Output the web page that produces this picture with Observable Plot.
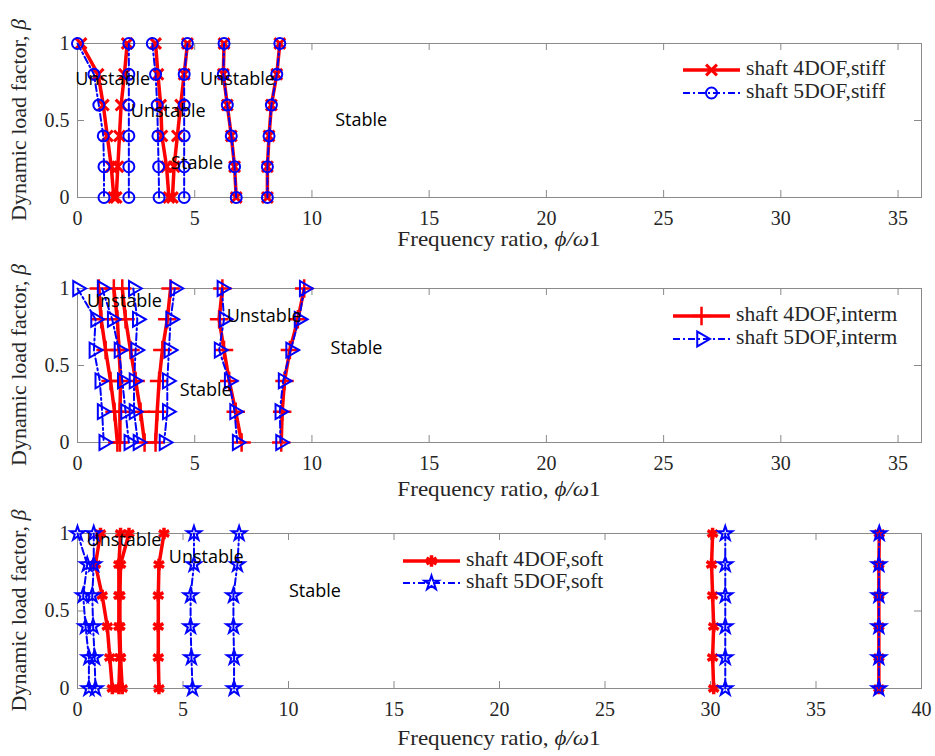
<!DOCTYPE html>
<html><head><meta charset="utf-8">
<script src="https://cdn.jsdelivr.net/npm/d3@7"></script>
<script src="https://cdn.jsdelivr.net/npm/@observablehq/plot@0.6"></script>
<style>
body{margin:0;background:#fff;}
#chart{position:relative;width:935px;height:756px;background:#fff;}
#chart svg{position:absolute;left:0;}
</style></head><body><div id="chart"></div>
<script>
// ---- data ----
const betaLevels = [1, 0.8, 0.6, 0.4, 0.2, 0];
const yTicks = [0, 0.5, 1];
const xTicks36 = [0, 5, 10, 15, 20, 25, 30, 35];
const xTicks40 = [0, 5, 10, 15, 20, 25, 30, 35, 40];

const stiff4DOF = [
  [0.15, 0.88, 1.10, 1.27, 1.44, 1.55],
  [2.12, 2.00, 1.86, 1.79, 1.72, 1.65],
  [3.33, 3.43, 3.55, 3.60, 3.80, 3.90],
  [4.69, 4.55, 4.40, 4.26, 4.12, 4.05],
  [6.25, 6.22, 6.39, 6.56, 6.70, 6.77],
  [8.63, 8.50, 8.27, 8.17, 8.10, 8.10]
];
const stiff5DOF = [
  [0.00, 0.70, 0.91, 1.10, 1.13, 1.13],
  [2.19, 2.19, 2.19, 2.19, 2.19, 2.19],
  [3.19, 3.33, 3.40, 3.43, 3.46, 3.48],
  [4.69, 4.55, 4.55, 4.55, 4.55, 4.55],
  [6.25, 6.22, 6.39, 6.56, 6.70, 6.77],
  [8.63, 8.50, 8.27, 8.17, 8.10, 8.10]
];
const interm4DOF = [
  [0.91, 1.01, 1.20, 1.41, 1.58, 1.70],
  [1.55, 1.70, 1.77, 1.84, 1.81, 1.81],
  [1.91, 2.05, 2.26, 2.48, 2.69, 2.86],
  [3.97, 3.83, 3.62, 3.48, 3.40, 3.33],
  [6.18, 6.04, 6.25, 6.47, 6.75, 7.00],
  [9.67, 9.40, 9.06, 8.83, 8.73, 8.69]
];
const interm5DOF = [
  [0.00, 0.77, 0.70, 0.95, 1.05, 1.12],
  [1.05, 1.48, 1.77, 1.91, 2.05, 2.19],
  [2.38, 2.55, 2.48, 2.41, 2.41, 2.58],
  [4.15, 3.97, 3.90, 3.83, 3.83, 3.69],
  [6.16, 6.25, 6.04, 6.47, 6.70, 6.81],
  [9.67, 9.45, 9.09, 8.77, 8.63, 8.66]
];
const soft4DOF = [
  [1.09, 0.85, 1.17, 1.41, 1.53, 1.65],
  [2.04, 1.96, 1.96, 1.96, 2.01, 1.96],
  [2.44, 2.04, 2.01, 2.01, 2.04, 2.12],
  [4.10, 3.86, 3.83, 3.83, 3.83, 3.86],
  [30.10, 30.05, 30.10, 30.15, 30.10, 30.15],
  [38.00, 37.98, 37.98, 37.98, 37.98, 37.98]
];
const soft5DOF = [
  [0.00, 0.46, 0.27, 0.38, 0.54, 0.54],
  [0.77, 0.77, 0.70, 0.74, 0.81, 0.85],
  [5.52, 5.52, 5.36, 5.36, 5.40, 5.45],
  [7.66, 7.58, 7.39, 7.39, 7.42, 7.42],
  [30.70, 30.70, 30.70, 30.70, 30.70, 30.70],
  [38.00, 37.98, 37.98, 37.98, 37.98, 37.98]
];

const legendStiff = ["shaft 4DOF,stiff", "shaft 5DOF,stiff"];
const legendInterm = ["shaft 4DOF,interm", "shaft 5DOF,interm"];
const legendSoft = ["shaft 4DOF,soft", "shaft 5DOF,soft"];

const notesStiff = [
  {text: "Unstable", x: 1.5, y: 0.77},
  {text: "Unstable", x: 3.87, y: 0.56},
  {text: "Unstable", x: 6.82, y: 0.77},
  {text: "Stable", x: 5.1, y: 0.22},
  {text: "Stable", x: 12.1, y: 0.50}
];
const notesInterm = [
  {text: "Unstable", x: 2.0, y: 0.92},
  {text: "Unstable", x: 7.96, y: 0.82},
  {text: "Stable", x: 5.47, y: 0.34},
  {text: "Stable", x: 11.9, y: 0.61}
];
const notesSoft = [
  {text: "Unstable", x: 2.2, y: 0.955},
  {text: "Unstable", x: 6.1, y: 0.85},
  {text: "Stable", x: 11.25, y: 0.63}
];

// ---- helpers ----
function toRows(curves) {
  const rows = [];
  curves.forEach((c, i) => c.forEach((x, j) => rows.push({x, y: betaLevels[j], curve: i})));
  return rows;
}

const RED = "#ff0000", BLUE = "#0000ff", FRAME = "#8a8a8a", INK = "#262626";
const SERIF = "'Liberation Serif', 'Times New Roman', serif";
const W = 935, ML = 77, MR = 14, MT = 43;

function panel(cfg) {
  const H = cfg.height, MB = cfg.marginBottom;
  const fh = H - MT - MB, fw = W - ML - MR, tk = 7;
  const red = toRows(cfg.red), blue = toRows(cfg.blue);
  const plot = Plot.plot({
    width: W, height: H,
    marginLeft: ML, marginRight: MR, marginTop: MT, marginBottom: MB,
    style: {fontFamily: SERIF, fontSize: "20px", color: INK, background: "transparent", overflow: "visible"},
    x: {domain: [0, cfg.xmax]},
    y: {domain: [0, 1]},
    marks: [
      Plot.frame({stroke: FRAME, strokeWidth: 1}),
      Plot.ruleX(cfg.xTicks, {x: d => d, stroke: FRAME, insetTop: fh - tk}),
      Plot.ruleX(cfg.xTicks, {x: d => d, stroke: FRAME, insetBottom: fh - tk}),
      Plot.ruleY(yTicks, {y: d => d, stroke: FRAME, insetRight: fw - tk}),
      Plot.ruleY(yTicks, {y: d => d, stroke: FRAME, insetLeft: fw - tk}),
      Plot.axisX(cfg.xTicks, {tickSize: 0, tickPadding: 13, fontSize: 20, fontFamily: SERIF, label: null, tickFormat: d => String(d), fill: INK}),
      Plot.axisY(yTicks, {tickSize: 0, tickPadding: 8, fontSize: 20, fontFamily: SERIF, label: null, tickFormat: d => String(d), fill: INK}),
      Plot.line(red, {x: "x", y: "y", z: "curve", stroke: RED, strokeWidth: 3.5}),
      Plot.dot(red, {x: "x", y: "y", symbol: cfg.redSym.type, r: cfg.redSym.r, stroke: RED, strokeWidth: cfg.redSym.sw, fill: "none"}),
      Plot.line(blue, {x: "x", y: "y", z: "curve", stroke: BLUE, strokeWidth: 2, strokeDasharray: "7,3,2,3"}),
      Plot.dot(blue, {x: "x", y: "y", symbol: cfg.blueSym.type, r: cfg.blueSym.r, rotate: cfg.blueSym.rotate || 0, stroke: BLUE, strokeWidth: 2, fill: "none"}),
      Plot.text(cfg.notes, {x: "x", y: "y", text: "text", fontFamily: "Open Sans", fontSize: 18, fill: "#000"})
    ]
  });
  plot.style.top = cfg.top + "px";
  document.getElementById("chart").appendChild(plot);

  const svg = d3.select(plot);
  // x label
  const xl = svg.append("text")
    .attr("transform", `translate(${ML + fw / 2},${MT + fh + cfg.xLabelOffset}) scale(1.1,1)`)
    .attr("text-anchor", "middle").attr("dominant-baseline", "middle")
    .style("font-family", SERIF).attr("font-size", 21).attr("fill", INK);
  xl.append("tspan").text("Frequency ratio, ");
  xl.append("tspan").attr("font-style", "italic").text("ϕ/ω");
  xl.append("tspan").text("1");
  // y label
  const yl = svg.append("text")
    .attr("transform", `translate(21,${MT + fh / 2}) rotate(-90)`)
    .attr("text-anchor", "middle").attr("dominant-baseline", "middle")
    .style("font-family", SERIF).attr("font-size", 22).attr("fill", INK);
  yl.append("tspan").text("Dynamic load factor, ");
  yl.append("tspan").attr("font-style", "italic").text("β");
  // legend
  const lg = svg.append("g");
  const items = [
    {label: cfg.legend[0], color: RED, sw: 3.5, dash: null, sym: cfg.redSym, msw: cfg.redSym.sw},
    {label: cfg.legend[1], color: BLUE, sw: 2, dash: "7,3,2,3", sym: cfg.blueSym, msw: 2}
  ];
  const symMap = {times: d3.symbolTimes, plus: d3.symbolPlus, asterisk: d3.symbolAsterisk, circle: d3.symbolCircle, triangle: d3.symbolTriangle, star: d3.symbolStar};
  items.forEach((it, i) => {
    const y = cfg.legendY[i], x0 = cfg.legendX;
    lg.append("line").attr("x1", x0).attr("x2", x0 + 57).attr("y1", y).attr("y2", y)
      .attr("stroke", it.color).attr("stroke-width", it.sw).attr("stroke-dasharray", it.dash);
    lg.append("path").attr("d", d3.symbol(symMap[it.sym.type], Math.PI * it.sym.r * it.sym.r)())
      .attr("transform", `translate(${x0 + 28.5},${y}) rotate(${it.sym.rotate || 0})`)
      .attr("fill", "none").attr("stroke", it.color).attr("stroke-width", it.msw);
    lg.append("text").attr("transform", `translate(${x0 + 63},${y}) scale(1.08,1)`)
      .attr("text-anchor", "start").attr("dominant-baseline", "middle")
      .style("font-family", SERIF).attr("font-size", 20).attr("fill", INK).text(it.label);
  });
}

panel({top: 0, height: 245, marginBottom: 48, xmax: 36, xTicks: xTicks36, xLabelOffset: 44,
  red: stiff4DOF, blue: stiff5DOF,
  redSym: {type: "times", r: 5, sw: 3}, blueSym: {type: "circle", r: 5.5},
  notes: notesStiff, legend: legendStiff, legendX: 683, legendY: [70, 93]});
panel({top: 245, height: 245, marginBottom: 48, xmax: 36, xTicks: xTicks36, xLabelOffset: 49,
  red: interm4DOF, blue: interm5DOF,
  redSym: {type: "plus", r: 6, sw: 2.5}, blueSym: {type: "triangle", r: 5.5, rotate: 90},
  notes: notesInterm, legend: legendInterm, legendX: 673, legendY: [71, 94]});
panel({top: 490, height: 266, marginBottom: 68, xmax: 40, xTicks: xTicks40, xLabelOffset: 52,
  red: soft4DOF, blue: soft5DOF,
  redSym: {type: "asterisk", r: 5.5, sw: 3.5}, blueSym: {type: "star", r: 4.5},
  notes: notesSoft, legend: legendSoft, legendX: 403, legendY: [71, 93]});
</script>
</body></html>
